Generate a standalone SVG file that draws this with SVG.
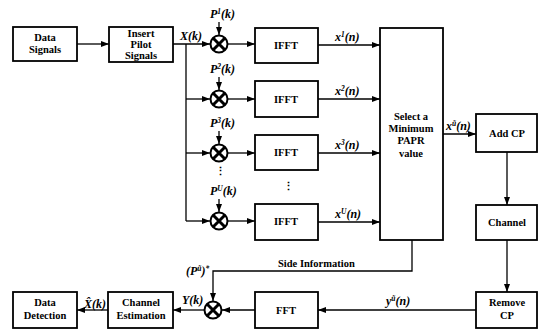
<svg xmlns="http://www.w3.org/2000/svg" width="539" height="333" viewBox="0 0 539 333">
<defs>
<marker id="ah" markerUnits="userSpaceOnUse" markerWidth="8" markerHeight="6" refX="8" refY="3" orient="auto">
<path d="M0,0 L8,3 L0,6 z" fill="#000"/>
</marker>
<g id="mult">
<circle cx="0" cy="0" r="8.5" fill="#fff" stroke="#000" stroke-width="2"/>
<path d="M-6,-6 L6,6 M-6,6 L6,-6" stroke="#000" stroke-width="3"/>
</g>
</defs>
<style>
.box{fill:#fff;stroke:#000;stroke-width:1.8}
.t{font-family:"Liberation Serif","Times New Roman",serif;font-weight:bold;font-size:10.5px;text-anchor:middle;fill:#000}
.m{font-family:"Liberation Serif","Times New Roman",serif;font-weight:bold;font-style:italic;font-size:12px;fill:#000}
.sup{font-size:7.5px}
.c{fill:none;stroke:#000;stroke-width:1.3}
</style>
<rect width="539" height="333" fill="#fff"/>

<g id="connectors">
<path class="c" d="M77,44 H109" marker-end="url(#ah)"/>
<path class="c" d="M173,44 H210" marker-end="url(#ah)"/>
<path class="c" d="M186,44 V221"/>
<path class="c" d="M186,99 H210" marker-end="url(#ah)"/>
<path class="c" d="M186,153 H210" marker-end="url(#ah)"/>
<path class="c" d="M186,221 H210" marker-end="url(#ah)"/>
<path class="c" d="M219,22 V35" marker-end="url(#ah)"/>
<path class="c" d="M219,77 V90" marker-end="url(#ah)"/>
<path class="c" d="M219,131 V144" marker-end="url(#ah)"/>
<path class="c" d="M219,199 V212" marker-end="url(#ah)"/>
<path class="c" d="M228,44 H255" marker-end="url(#ah)"/>
<path class="c" d="M228,99 H255" marker-end="url(#ah)"/>
<path class="c" d="M228,153 H255" marker-end="url(#ah)"/>
<path class="c" d="M228,221 H255" marker-end="url(#ah)"/>
<path class="c" d="M318,45 H380" marker-end="url(#ah)"/>
<path class="c" d="M318,99 H380" marker-end="url(#ah)"/>
<path class="c" d="M318,153 H380" marker-end="url(#ah)"/>
<path class="c" d="M318,222 H380" marker-end="url(#ah)"/>
<path class="c" d="M443,134 H476" marker-end="url(#ah)"/>
<path class="c" d="M507,152 V205" marker-end="url(#ah)"/>
<path class="c" d="M507,240 V292" marker-end="url(#ah)"/>
<path class="c" d="M476,310 H318" marker-end="url(#ah)"/>
<path class="c" d="M255,310 H222" marker-end="url(#ah)"/>
<path class="c" d="M412,240 V271 H213 V301" marker-end="url(#ah)"/>
<path class="c" d="M204,310 H173" marker-end="url(#ah)"/>
<path class="c" d="M108,310 H77" marker-end="url(#ah)"/>
</g>

<g id="data-signals"><rect class="box" x="13" y="27" width="64" height="34"/><text class="t" x="45" y="41">Data</text><text class="t" x="45" y="53">Signals</text></g>
<g id="insert-pilot"><rect class="box" x="109" y="27" width="64" height="35"/><text class="t" x="141" y="37">Insert</text><text class="t" x="141" y="48">Pilot</text><text class="t" x="141" y="59">Signals</text></g>

<g id="mult1"><use href="#mult" x="219" y="44"/></g>
<g id="mult2"><use href="#mult" x="219" y="99"/></g>
<g id="mult3"><use href="#mult" x="219" y="153"/></g>
<g id="mult4"><use href="#mult" x="219" y="221"/></g>

<g id="ifft1"><rect class="box" x="255" y="28" width="63" height="35"/><text class="t" x="286" y="49">IFFT</text></g>
<g id="ifft2"><rect class="box" x="255" y="81" width="63" height="36"/><text class="t" x="286" y="103">IFFT</text></g>
<g id="ifft3"><rect class="box" x="255" y="135" width="63" height="35"/><text class="t" x="286" y="156">IFFT</text></g>
<g id="ifft4"><rect class="box" x="255" y="204" width="63" height="36"/><text class="t" x="286" y="225">IFFT</text></g>

<g id="select"><rect class="box" x="380" y="28" width="63" height="212"/><text class="t" x="411" y="120">Select a</text><text class="t" x="411" y="132">Minimum</text><text class="t" x="411" y="144">PAPR</text><text class="t" x="411" y="157">value</text></g>
<g id="add-cp"><rect class="box" x="476" y="114" width="61" height="38"/><text class="t" x="507" y="137">Add CP</text></g>
<g id="channel"><rect class="box" x="476" y="205" width="61" height="35"/><text class="t" x="507" y="226">Channel</text></g>
<g id="remove-cp"><rect class="box" x="476" y="292" width="61" height="36"/><text class="t" x="507" y="306">Remove</text><text class="t" x="507" y="319">CP</text></g>
<g id="fft"><rect class="box" x="255" y="292" width="63" height="36"/><text class="t" x="286" y="314">FFT</text></g>
<g id="mult5"><use href="#mult" x="213" y="310"/></g>
<g id="channel-est"><rect class="box" x="108" y="292" width="65" height="36"/><text class="t" x="141" y="306">Channel</text><text class="t" x="141" y="319">Estimation</text></g>
<g id="data-det"><rect class="box" x="13" y="292" width="64" height="36"/><text class="t" x="45" y="306">Data</text><text class="t" x="45" y="319">Detection</text></g>

<g id="labels">
<text class="m" x="180" y="40">X(k)</text>
<text class="m" x="210" y="18">P<tspan class="sup" dy="-4">1</tspan><tspan dy="4">(k)</tspan></text>
<text class="m" x="210" y="73">P<tspan class="sup" dy="-4">2</tspan><tspan dy="4">(k)</tspan></text>
<text class="m" x="210" y="127">P<tspan class="sup" dy="-4">3</tspan><tspan dy="4">(k)</tspan></text>
<text class="m" x="210" y="195">P<tspan class="sup" dy="-4">U</tspan><tspan dy="4">(k)</tspan></text>
<text class="t" x="220" y="175">⋮</text>
<text class="t" x="288" y="190">⋮</text>
<text class="m" x="335" y="41">x<tspan class="sup" dy="-4">1</tspan><tspan dy="4">(n)</tspan></text>
<text class="m" x="335" y="95">x<tspan class="sup" dy="-4">2</tspan><tspan dy="4">(n)</tspan></text>
<text class="m" x="335" y="149">x<tspan class="sup" dy="-4">3</tspan><tspan dy="4">(n)</tspan></text>
<text class="m" x="335" y="218">x<tspan class="sup" dy="-4">U</tspan><tspan dy="4">(n)</tspan></text>
<text class="m" x="446" y="130">x<tspan class="sup" dy="-4">ũ</tspan><tspan dy="4">(n)</tspan></text>
<text class="m" x="386" y="305">y<tspan class="sup" dy="-4">ũ</tspan><tspan dy="4">(n)</tspan></text>
<text class="t" x="278" y="267" style="text-anchor:start">Side Information</text>
<text class="m" x="186" y="275">(P<tspan class="sup" dy="-4">ũ</tspan><tspan dy="4">)</tspan><tspan class="sup" dy="-4">*</tspan></text>
<text class="m" x="182" y="304">Y(k)</text>
<text class="m" x="84" y="308">X̂(k)</text>
</g>
</svg>
